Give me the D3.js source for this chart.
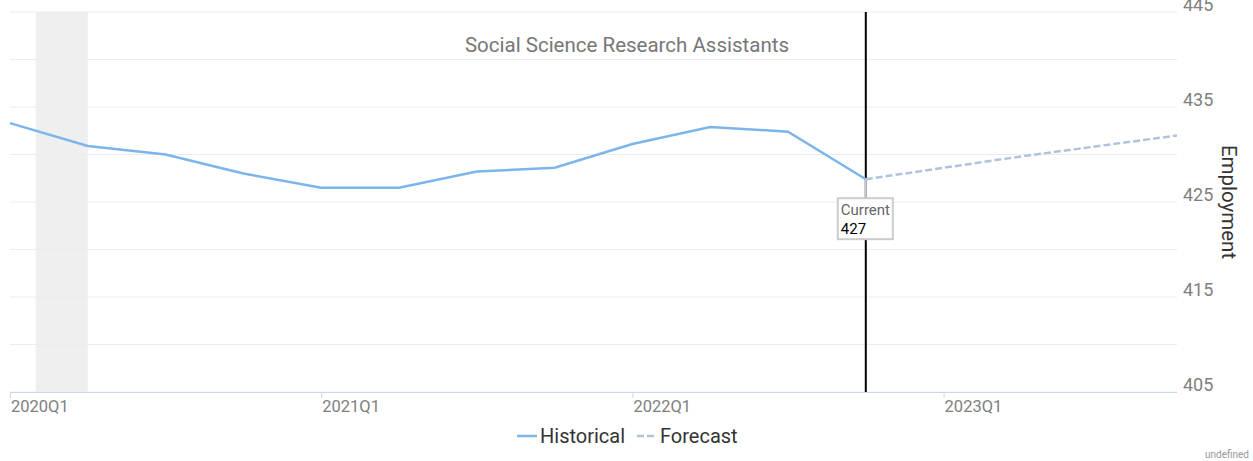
<!DOCTYPE html>
<html lang="en">
<head>
<meta charset="UTF-8">
<title>Social Science Research Assistants</title>
<script src="https://cdn.jsdelivr.net/npm/d3@7"></script>
<style>
  body { margin: 0; padding: 0; background: #fff; font-family: Roboto, sans-serif; }
  .grid line { stroke: #ececec; stroke-width: 1px; }
  .grid path { stroke-width: 0; }
</style>
</head>
<body>
<div id="chart"></div>
<script>
// data
const quarters = ["2020Q1","2020Q2","2020Q3","2020Q4","2021Q1","2021Q2","2021Q3","2021Q4",
                  "2022Q1","2022Q2","2022Q3","2022Q4","2023Q1","2023Q2","2023Q3","2023Q4"];
const historical = [433.3, 430.9, 430.0, 428.0, 426.5, 426.5, 428.2, 428.6, 431.1, 432.9, 432.4, 427.4];
const forecast = [427.4, 428.6, 429.8, 430.9, 432.0];   // starts at 2022Q4
const forecastStart = 11;
const yTicks = [405, 415, 425, 435, 445];
const yGrid = [405, 410, 415, 420, 425, 430, 435, 440, 445];
const xTickLabels = ["2020Q1", "2021Q1", "2022Q1", "2023Q1"];
const recession = [0.33, 1];   // quarter index range of shaded band
const currentIndex = 11;
const currentLabel = "427";

const W = 1253, H = 461;
const plotL = 10, plotR = 1177, plotT = 12, plotB = 392;

const svg = d3.select("#chart").append("svg")
    .attr("width", W).attr("height", H);

const x = d3.scaleLinear().domain([0, quarters.length - 1]).range([plotL, plotR]);
const y = d3.scaleLinear().domain([405, 445]).range([plotB, plotT]);

// recession band
svg.append("rect")
    .attr("x", x(recession[0]))
    .attr("y", plotT)
    .attr("width", x(recession[1]) - x(recession[0]))
    .attr("height", plotB - plotT)
    .attr("fill", "#efefef");

// grid
svg.append("g").attr("class", "grid")
    .selectAll("line").data(yGrid).join("line")
    .attr("x1", plotL).attr("x2", plotR)
    .attr("y1", d => y(d)).attr("y2", d => y(d));

// y labels on the right
svg.append("g").selectAll("text").data(yTicks).join("text")
    .attr("x", 1183).attr("y", d => y(d) - 1.5)
    .attr("font-size", 18).attr("fill", "#808080")
    .text(d => d);

// x axis
svg.append("line")
    .attr("x1", plotL).attr("x2", plotR)
    .attr("y1", plotB + 0.5).attr("y2", plotB + 0.5)
    .attr("stroke", "#ccd6eb");
const xt = svg.append("g").selectAll("g").data(xTickLabels).join("g")
    .attr("transform", d => "translate(" + x(quarters.indexOf(d)) + ",0)");
xt.append("line")
    .attr("x1", 0.5).attr("x2", 0.5).attr("y1", plotB).attr("y2", plotB + 6)
    .attr("stroke", "#ccd6eb");
xt.append("text")
    .attr("x", 1).attr("y", plotB + 20)
    .attr("font-size", 16.5).attr("fill", "#808080")
    .text(d => d);

// current vertical line
svg.append("line")
    .attr("x1", x(currentIndex)).attr("x2", x(currentIndex))
    .attr("y1", plotT).attr("y2", plotB)
    .attr("stroke", "#000").attr("stroke-width", 2);

// lines
const line = d3.line().x(d => x(d.i)).y(d => y(d.v));
svg.append("path")
    .datum(historical.map((v, i) => ({ i, v })))
    .attr("d", line)
    .attr("fill", "none").attr("stroke", "#7cb5ec").attr("stroke-width", 2.5);
svg.append("path")
    .datum(forecast.map((v, i) => ({ i: i + forecastStart, v })))
    .attr("d", line)
    .attr("fill", "none").attr("stroke", "#b0c3de").attr("stroke-width", 2.5)
    .attr("stroke-dasharray", "7,3");

// tooltip
const cx = x(currentIndex), cy = y(historical[currentIndex]);
svg.append("line")
    .attr("x1", cx).attr("x2", cx).attr("y1", cy).attr("y2", cy + 19)
    .attr("stroke", "#ccc").attr("stroke-width", 2);
svg.append("rect")
    .attr("x", cx - 28).attr("y", cy + 19).attr("width", 55).attr("height", 41)
    .attr("fill", "#fff").attr("stroke", "#ccc").attr("stroke-width", 2);
svg.append("text")
    .attr("x", cx - 25).attr("y", cy + 36)
    .attr("font-size", 15).attr("fill", "#666").text("Current");
svg.append("text")
    .attr("x", cx - 25).attr("y", cy + 55)
    .attr("font-size", 15).attr("fill", "#000").text(currentLabel);

// title
svg.append("text")
    .attr("x", 627).attr("y", 52)
    .attr("text-anchor", "middle")
    .attr("font-size", 20.5).attr("fill", "#777")
    .text("Social Science Research Assistants");

// y axis title
svg.append("text")
    .attr("transform", "translate(1222,202) rotate(90)")
    .attr("text-anchor", "middle")
    .attr("font-size", 20.5).attr("fill", "#333")
    .text("Employment");

// legend
const lg = svg.append("g").attr("transform", "translate(517,436)");
lg.append("line").attr("x1", 0).attr("x2", 20).attr("y1", 0).attr("y2", 0)
    .attr("stroke", "#7cb5ec").attr("stroke-width", 2.5);
lg.append("text").attr("x", 23).attr("y", 7)
    .attr("font-size", 20).attr("fill", "#333").text("Historical");
lg.append("line").attr("x1", 120).attr("x2", 137).attr("y1", 0).attr("y2", 0)
    .attr("stroke", "#b0c3de").attr("stroke-width", 2.5).attr("stroke-dasharray", "7,3");
lg.append("text").attr("x", 143).attr("y", 7)
    .attr("font-size", 20).attr("fill", "#333").text("Forecast");

// credits
svg.append("text")
    .attr("x", 1249).attr("y", 458)
    .attr("text-anchor", "end")
    .attr("font-size", 10).attr("fill", "#999")
    .text("undefined");
</script>
</body>
</html>
